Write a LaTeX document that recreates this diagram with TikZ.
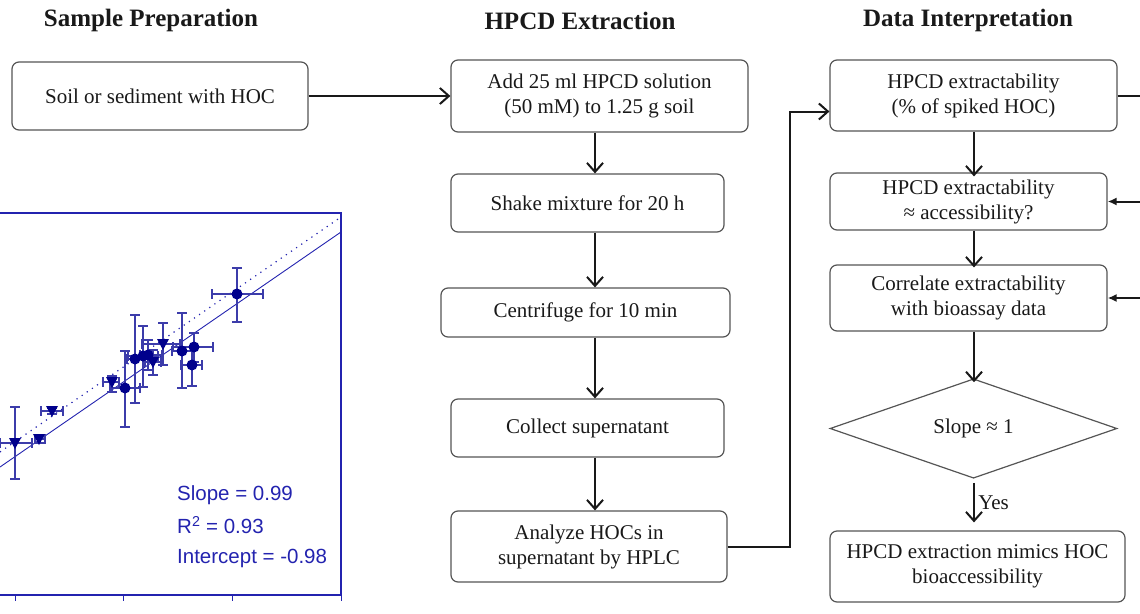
\documentclass[tikz,border=0pt]{standalone}
\usepackage{fontspec}
\setmainfont{Liberation Serif}
\newfontfamily\plotfont{Liberation Sans}
\usepackage{tikz}
\usetikzlibrary{arrows.meta, shapes.geometric}
\definecolor{boxgray}{RGB}{85, 85, 85}
\definecolor{inkblack}{RGB}{25, 25, 25}
\definecolor{plotblue}{RGB}{35, 35, 175}
\definecolor{markblue}{RGB}{0, 0, 140}
\definecolor{barblue}{RGB}{60, 60, 170}

\begin{document}
\begin{tikzpicture}[x=1pt, y=-1pt,
  stepbox/.style={draw=boxgray, line width=1.2pt, rounded corners=7pt, align=center,
    inner sep=0pt, font=\fontsize{21}{25}\selectfont, text=inkblack},
  heading/.style={font=\fontsize{25}{28}\selectfont\bfseries, text=inkblack},
  flow/.style={-{Straight Barb[length=9pt, width=16pt]}, line width=2pt, draw=inkblack},
  feed/.style={-{Latex[length=9pt, width=8pt]}, line width=2pt, draw=inkblack},
  fittext/.style={font=\plotfont\fontsize{20.5}{24}\selectfont, text=plotblue, anchor=west, inner sep=0pt}]
  \useasboundingbox (0,0) rectangle (1140,613);

  % column headings
  \node[heading] (headprep) at (151,20) {Sample Preparation};
  \node[heading] (headext) at (580,21) {HPCD Extraction};
  \node[heading] (headdata) at (968,20) {Data Interpretation};

  % sample preparation
  \node[stepbox, minimum width=296pt, minimum height=68pt] (soil) at (160,96) {Soil or sediment with HOC};

  % extraction steps
  \node[stepbox, minimum width=297pt, minimum height=72pt] (addsol) at (599.5,96) {Add 25 ml HPCD solution\\(50 mM) to 1.25 g soil};
  \node[stepbox, minimum width=273pt, minimum height=58pt] (shake) at (587.5,203) {Shake mixture for 20 h};
  \node[stepbox, minimum width=289pt, minimum height=49pt] (centri) at (585.5,312.5) {Centrifuge for 10 min};
  \node[stepbox, minimum width=273pt, minimum height=58pt] (collect) at (587.5,428) {Collect supernatant};
  \node[stepbox, minimum width=276pt, minimum height=71pt] (analyze) at (589,546.5) {Analyze HOCs in\\supernatant by HPLC};

  % interpretation steps
  \node[stepbox, minimum width=287pt, minimum height=71pt] (extract) at (973.5,95.5) {HPCD extractability\\(\% of spiked HOC)};
  \node[stepbox, minimum width=277pt, minimum height=57pt] (access) at (968.5,201.5) {HPCD extractability\\≈ accessibility?};
  \node[stepbox, minimum width=277pt, minimum height=66pt] (correl) at (968.5,298) {Correlate extractability\\with bioassay data};
  \node[diamond, draw=boxgray, line width=1.2pt, inner sep=0pt, minimum width=287pt, minimum height=95pt,
    font=\fontsize{21}{25}\selectfont, text=inkblack] (slope) at (973.5,428.5) {Slope ≈ 1};
  \node[stepbox, minimum width=295pt, minimum height=71pt] (mimic) at (977.5,566.5) {HPCD extraction mimics HOC\\bioaccessibility};

  \coordinate (midx) at (595,0);
  \coordinate (rightx) at (974,0);
  \coordinate (bend) at (790,0);
  \coordinate (edge) at (1140,0);

  % connectors
  \draw[flow] (soil.east) -- (addsol.west);
  \draw[flow] (addsol.south -| midx) -- (shake.north -| midx);
  \draw[flow] (shake.south -| midx) -- (centri.north -| midx);
  \draw[flow] (centri.south -| midx) -- (collect.north -| midx);
  \draw[flow] (collect.south -| midx) -- (analyze.north -| midx);
  \draw[flow] (analyze.east) -- (analyze.east -| bend) |- ([yshift=-16pt]extract.west);
  \draw[flow] (extract.south -| rightx) -- ([yshift=-4pt]access.north -| rightx);
  \draw[flow] (access.south -| rightx) -- ([yshift=-3pt]correl.north -| rightx);
  \draw[flow] (correl.south -| rightx) -- ([yshift=-4pt]slope.north -| rightx);
  \draw[flow] ([yshift=-4pt]slope.south -| rightx) -- ([yshift=8pt]mimic.north -| rightx)
    node[midway, right, font=\fontsize{21}{25}\selectfont, text=inkblack] {Yes};
  \draw[line width=2pt, draw=inkblack] (extract.east) -- (extract.east -| edge);
  \draw[feed] (access.east -| edge) -- (access.east);
  \draw[feed] (correl.east -| edge) -- (correl.east);

  % calibration plot
  \draw[plotblue, line width=1.1pt] (0,213) -- (341,213) -- (341,595) -- (0,595);
  \foreach \x in {15,123,232,341}
    \draw[plotblue, line width=1pt] (\x,595) -- (\x,601);
  \draw[plotblue, line width=0.9pt] (0,467) -- (341,232);
  \draw[plotblue, line width=1.2pt, dash pattern=on 1.2pt off 5pt] (0,452) -- (341,217);
  \foreach \x/\y/\xa/\xb/\ya/\yb in {237/294/212/263/268/322, 125/388/110/140/351/427,
      135/359/127/143/315/403, 143/356/128/158/326/387, 148/355/140/162/340/370,
      182/351/172/193/313/388, 194/347/173/213/333/362, 192/365/181/202/347/386,
      15/443/0/32/407/479, 39/439/35/45/435/443, 52/411/41/63/408/414,
      112/382/103/119/376/392, 153/362/145/161/350/375, 163/344/142/180/323/365}{
    \draw[barblue, line width=1.2pt] (\xa,\y) -- (\xb,\y) (\xa,\y-5) -- (\xa,\y+5) (\xb,\y-5) -- (\xb,\y+5)
      (\x,\ya) -- (\x,\yb) (\x-5,\ya) -- (\x+5,\ya) (\x-5,\yb) -- (\x+5,\yb);
  }
  \foreach \x/\y in {237/294, 125/388, 135/359, 143/356, 148/355, 182/351, 194/347, 192/365}{
    \fill[markblue] (\x,\y) circle (5.5pt);
  }
  \foreach \x/\y in {15/443, 39/439, 52/411, 112/382, 153/362, 163/344}{
    \fill[markblue] (\x-6,\y-5) -- (\x+6,\y-5) -- (\x,\y+6) -- cycle;
  }
  \node[fittext] (fitslope) at (177,495) {Slope = 0.99};
  \node[fittext] (fitrsq) at (177,525) {R\textsuperscript{2} = 0.93};
  \node[fittext] (fitint) at (177,558) {Intercept = -0.98};
\end{tikzpicture}
\end{document}
